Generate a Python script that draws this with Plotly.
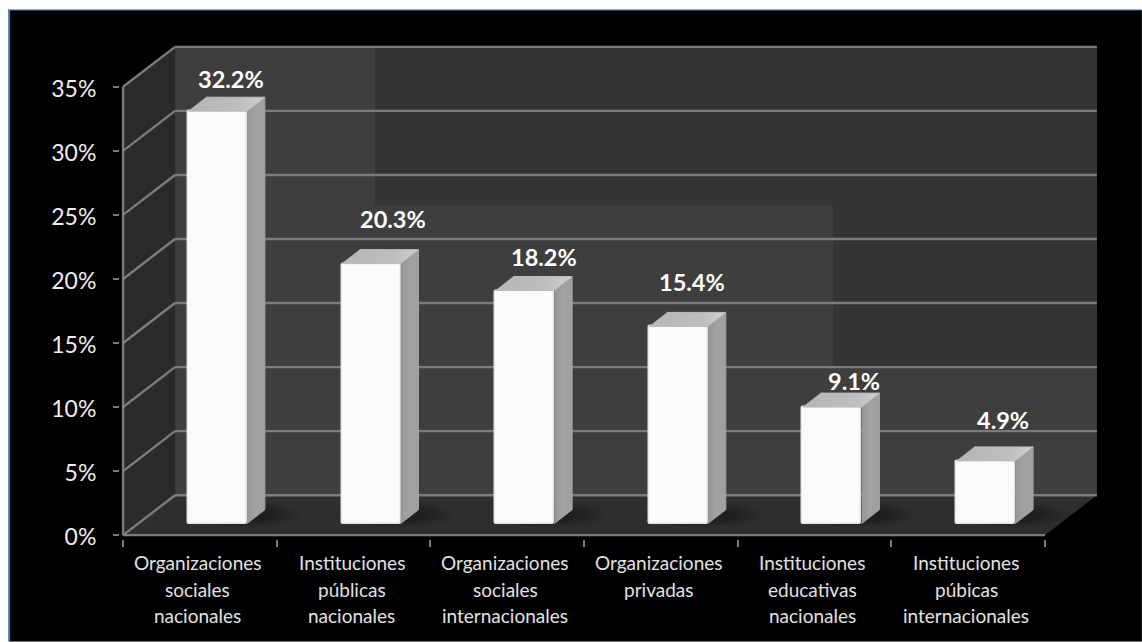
import plotly.graph_objects as go

# Chart content
category_lines = [
    ["Organizaciones", "sociales", "nacionales"],
    ["Instituciones", "públicas", "nacionales"],
    ["Organizaciones", "sociales", "internacionales"],
    ["Organizaciones", "privadas"],
    ["Instituciones", "educativas", "nacionales"],
    ["Instituciones", "púbicas", "internacionales"],
]
values = [32.2, 20.3, 18.2, 15.4, 9.1, 4.9]
percent_ticks = [0, 5, 10, 15, 20, 25, 30, 35]

# Label offsets from each bar's front-top centre, in pixels
label_dx = [14, 21.5, 19, 13.5, 22.5, 17.5]
label_dy = [32, 45, 34, 44, 26, 41]

# Oblique projection: one category is this many px wide, one percent this many px tall
PX_CAT = 153.67
PX_PCT = 12.83
ORIGIN_X, ORIGIN_Y = 123, 535.5
W, H = 1142, 642

# Chart box depth, in data units
DEPTH_X = 52 / PX_CAT
DEPTH_Y = 40 / PX_PCT
# Bar placement inside the box
BAR_SHIFT = 17.5 / PX_CAT
BAR_BASE = 11.5 / PX_PCT
BAR_W = 59 / PX_CAT
BAR_DX = 18 / PX_CAT
BAR_DY = 14 / PX_PCT

N = len(values)
TOP = max(percent_ticks)
XMIN, XMAX = -0.02, N + DEPTH_X + 0.02
YMIN, YMAX = -0.3, TOP + DEPTH_Y + 0.3

GRID = "#7c7c7c"
WALL_LIGHT = "#3e3e3e"
WALL_DARK = "#343434"
SIDE_WALL = "#2a2a2a"
FLOOR = "#2e2e2e"


def poly(points, fill, line=None, width=0):
    path = "M " + " L ".join(f"{x},{y}" for x, y in points) + " Z"
    return dict(type="path", path=path, xref="x", yref="y", layer="below",
                fillcolor=fill, line=dict(color=line or fill, width=width))


def seg(x0, y0, x1, y1, color=GRID, width=2.4):
    return dict(type="line", x0=x0, y0=y0, x1=x1, y1=y1, xref="x", yref="y",
                layer="below", line=dict(color=color, width=width))


def paper_x(px):
    return (px - plot_left) / (plot_right - plot_left)


def paper_y(py):
    return (plot_bottom - py) / (plot_bottom - plot_top)


plot_left = ORIGIN_X + XMIN * PX_CAT
plot_right = ORIGIN_X + XMAX * PX_CAT
plot_bottom = ORIGIN_Y - YMIN * PX_PCT
plot_top = ORIGIN_Y - YMAX * PX_PCT

shapes = [
    # Black slide panel with its blue edge
    dict(type="rect", xref="paper", yref="paper", layer="below",
         x0=paper_x(9), x1=paper_x(W), y0=paper_y(H), y1=paper_y(9.5),
         fillcolor="#000000", line=dict(width=0)),
    dict(type="line", xref="paper", yref="paper", layer="below",
         x0=paper_x(9), x1=paper_x(9), y0=paper_y(H), y1=paper_y(9),
         line=dict(color="#4a7ebb", width=2)),
    dict(type="line", xref="paper", yref="paper", layer="below",
         x0=paper_x(8), x1=paper_x(W), y0=paper_y(9.5), y1=paper_y(9.5),
         line=dict(color="#4a7ebb", width=1)),
    # Back wall, side wall, floor
    poly([(DEPTH_X, DEPTH_Y), (N + DEPTH_X, DEPTH_Y), (N + DEPTH_X, TOP + DEPTH_Y), (DEPTH_X, TOP + DEPTH_Y)], WALL_LIGHT),
    poly([(1.64, TOP + DEPTH_Y), (N + DEPTH_X, TOP + DEPTH_Y), (N + DEPTH_X, 13.2), (4.62, 13.2), (4.62, 25.76), (1.64, 25.76)], WALL_DARK),
    poly([(0, 0), (DEPTH_X, DEPTH_Y), (DEPTH_X, TOP + DEPTH_Y), (0, TOP)], SIDE_WALL),
    poly([(0, 0), (N, 0), (N + DEPTH_X, DEPTH_Y), (DEPTH_X, DEPTH_Y)], FLOOR),
]

# Gridlines run up the side wall and across the back wall
for t in percent_ticks:
    shapes.append(seg(0, t, DEPTH_X, t + DEPTH_Y))
    shapes.append(seg(DEPTH_X, t + DEPTH_Y, N + DEPTH_X, t + DEPTH_Y))

# Axis lines on the front plane
shapes.append(seg(0, 0, 0, TOP))
shapes.append(seg(0, 0, N, 0))

centers = [i + 0.5 + BAR_SHIFT for i in range(N)]

# Soft floor shadow behind every bar, built from stacked translucent ellipses
for c in centers:
    for rx, ry in [(58, 13), (52, 11.5), (46, 10), (40, 8.5), (34, 7)]:
        cx = c + 24 / PX_CAT
        cy = BAR_BASE + 9 / PX_PCT
        shapes.append(dict(type="circle", xref="x", yref="y", layer="below",
                           x0=cx - rx / PX_CAT, x1=cx + rx / PX_CAT,
                           y0=cy - ry / PX_PCT, y1=cy + ry / PX_PCT,
                           fillcolor="rgba(0,0,0,0.055)", line=dict(width=0)))

fig = go.Figure()

# Front faces
fig.add_trace(go.Bar(
    x=centers, y=values, base=BAR_BASE, width=BAR_W, showlegend=False, hoverinfo="skip",
    marker=dict(color="#fbfbfb", cornerradius=2, line=dict(color="#e6e6e6", width=1.5)),
))

# Side and top faces share the values of the front faces
for c, v in zip(centers, values):
    x0, x1 = c - BAR_W / 2, c + BAR_W / 2
    y_low, y_top = BAR_BASE, BAR_BASE + v
    fig.add_trace(go.Scatter(
        x=[x1, x1 + BAR_DX, x1 + BAR_DX, x1], y=[y_low, y_low + BAR_DY, y_top + BAR_DY, y_top],
        mode="lines", fill="toself", showlegend=False, hoverinfo="skip",
        line=dict(color="#a0a0a0", width=1),
        fillgradient=dict(type="horizontal", colorscale=[[0, "#969696"], [0.5, "#a2a2a2"], [1, "#a0a0a0"]]),
    ))
    fig.add_trace(go.Scatter(
        x=[x0, x1, x1 + BAR_DX, x0 + BAR_DX], y=[y_top, y_top, y_top + BAR_DY, y_top + BAR_DY],
        mode="lines", fill="toself", showlegend=False, hoverinfo="skip",
        line=dict(color="#bcbcbc", width=1),
        fillgradient=dict(type="horizontal", colorscale=[[0, "#b6b6b6"], [0.7, "#bebebe"], [1, "#d2d2d2"]]),
    ))

annotations = []
# Value labels
for c, v, dx, dy in zip(centers, values, label_dx, label_dy):
    annotations.append(dict(
        x=c, y=BAR_BASE + v, xref="x", yref="y", text=f"{v:.1f}%", showarrow=False,
        xanchor="center", yanchor="middle", xshift=dx, yshift=dy,
        font=dict(family="Lato", size=23.5, color="#ffffff", weight="bold"),
    ))
# Category names, one annotation per line for the wide line spacing
for i, lines in enumerate(category_lines):
    for j, line in enumerate(lines):
        annotations.append(dict(
            x=i + 0.5, y=0, xref="x", yref="y", text=line, showarrow=False,
            xanchor="center", yanchor="middle", xshift=-2, yshift=-(27.5 + 26.5 * j),
            font=dict(family="Lato", size=19, color="#e2e2e2"),
        ))

fig.update_layout(
    width=W, height=H, showlegend=False, bargap=0,
    paper_bgcolor="#ffffff", plot_bgcolor="rgba(0,0,0,0)",
    margin=dict(l=plot_left, r=W - plot_right, t=plot_top, b=H - plot_bottom, pad=0, autoexpand=False),
    font=dict(family="Lato"),
    shapes=shapes, annotations=annotations,
    xaxis=dict(range=[XMIN, XMAX], tickmode="array", tickvals=list(range(N + 1)), showticklabels=False,
               ticks="outside", ticklen=7, tickcolor=GRID, tickwidth=1.8,
               showgrid=False, zeroline=False, showline=False),
    yaxis=dict(range=[YMIN, YMAX], tickmode="array", tickvals=percent_ticks,
               ticktext=[f"{t}%" for t in percent_ticks],
               tickfont=dict(family="Lato", size=23, color="#efefef"),
               ticks="outside", ticklen=6, tickcolor=GRID, tickwidth=1.8, ticklabelstandoff=12,
               ticklabelshift=2,
               showgrid=False, zeroline=False, showline=False),
)

fig.write_html("out.html", config=dict(displayModeBar=False))
